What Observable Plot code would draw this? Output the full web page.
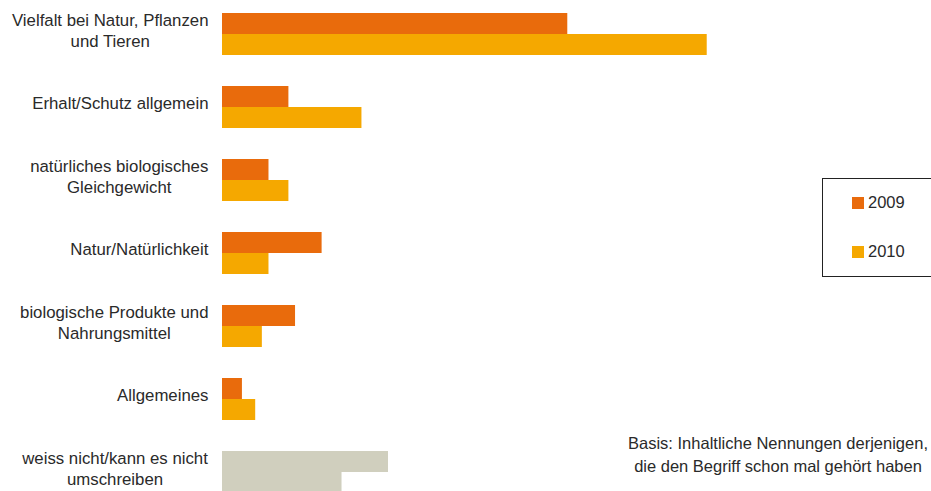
<!DOCTYPE html>
<html><head><meta charset="utf-8">
<script src="https://cdn.jsdelivr.net/npm/d3@7"></script>
<script src="https://cdn.jsdelivr.net/npm/@observablehq/plot@0.6"></script>
<style>
html,body{margin:0;padding:0;overflow:hidden;background:#fff;}
#wrap{position:relative;width:931px;height:491px;overflow:hidden;font-family:"Liberation Sans",Arial,sans-serif;color:#2a2a2a;}
#chart{position:absolute;left:0;top:0;}
#legend{position:absolute;left:822px;top:178px;width:130px;height:99px;border:1px solid #222;box-sizing:border-box;}
.li{position:absolute;left:29px;font-size:16.5px;line-height:18px;}
.sw{display:inline-block;width:12px;height:12px;margin-right:4px;vertical-align:-1px;}
#note{position:absolute;left:600px;width:356px;top:432px;font-size:16.5px;line-height:23px;text-align:center;color:#2a2a2a;}
</style></head><body>
<div id="wrap"><div id="chart"></div><div id="legend"></div><div id="note">Basis: Inhaltliche Nennungen derjenigen,<br>die den Begriff schon mal gehört haben</div></div>
<script>
const categories = [
  "Vielfalt bei Natur, Pflanzen\nund Tieren",
  "Erhalt/Schutz allgemein",
  "natürliches biologisches\nGleichgewicht",
  "Natur/Natürlichkeit",
  "biologische Produkte und\nNahrungsmittel",
  "Allgemeines",
  "weiss nicht/kann es nicht\numschreiben"
];
const years = ["2009", "2010"];
const values2009 = [52, 10, 7, 15, 11, 3, 25];
const values2010 = [73, 21, 10, 7, 6, 5, 18];
const noAnswerCategory = categories[categories.length - 1];
const colors = {"2009": "#E96B0C", "2010": "#F5A800", "keine": "#D0CFBE"};

const data = categories.flatMap((c, i) => [
  {category: c, year: "2009", value: values2009[i]},
  {category: c, year: "2010", value: values2010[i]}
]);

const plot = Plot.plot({
  width: 931,
  height: 493,
  marginLeft: 222,
  marginRight: 45,
  marginTop: 13,
  marginBottom: 0,
  x: {domain: [0, 100], axis: null},
  fy: {domain: categories, paddingInner: 31 / 73, paddingOuter: 0, axis: null},
  y: {domain: years, padding: 0, axis: null},
  color: {domain: Object.keys(colors), range: Object.values(colors)},
  style: {fontFamily: '"Liberation Sans", Arial, sans-serif'},
  marks: [
    Plot.barX(data, {
      fy: "category",
      y: "year",
      x: "value",
      fill: d => d.category === noAnswerCategory ? "keine" : d.year
    }),
    Plot.text(categories, {
      fy: d => d,
      text: d => d,
      frameAnchor: "left",
      textAnchor: "end",
      dx: -14,
      dy: -5,
      fontSize: 16.8,
      lineHeight: 1.27,
      fill: "#2a2a2a",
      className: "catlabel"
    })
  ]
});
document.getElementById("chart").appendChild(plot);

// center the lines of each multi-line label inside its right-aligned block
plot.querySelectorAll("g.catlabel text").forEach(t => {
  const w = t.getBBox().width;
  t.setAttribute("text-anchor", "middle");
  t.querySelectorAll("tspan").forEach(s => s.setAttribute("x", -w / 2));
  if (!t.querySelector("tspan")) t.setAttribute("x", -w / 2);
});

const legend = document.getElementById("legend");
years.forEach((y, i) => {
  const item = document.createElement("div");
  item.className = "li";
  item.style.top = (14 + i * 49) + "px";
  item.innerHTML = `<span class="sw" style="background:${colors[y]}"></span>${y}`;
  legend.appendChild(item);
});
</script>
</body></html>
